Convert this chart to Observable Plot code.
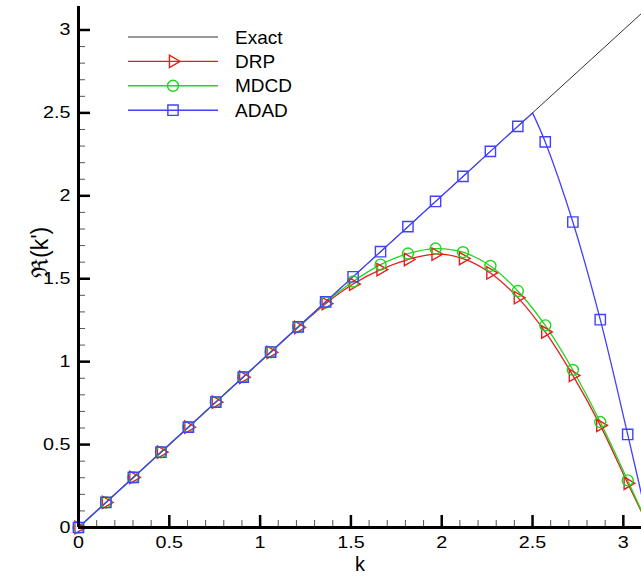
<!DOCTYPE html>
<html><head><meta charset="utf-8">
<script src="https://cdn.jsdelivr.net/npm/d3@7"></script>
<script src="https://cdn.jsdelivr.net/npm/@observablehq/plot@0.6"></script>
<style>
body{margin:0;background:#fff;}
#wrap{position:relative;width:641px;height:577px;font-family:Arial,"Liberation Sans",sans-serif;}
#legend{position:absolute;left:0;top:0;}
</style></head><body><div id="wrap"></div>
<script>
// ---- data ----
const seriesNames = ["Exact", "DRP", "MDCD", "ADAD"];
const seriesColors = ["#333333", "rgb(228,30,30)", "rgb(30,215,30)", "rgb(65,65,255)"];
const markerK  = [0, 0.151, 0.302, 0.454, 0.605, 0.756, 0.907, 1.058, 1.210, 1.361, 1.512, 1.663, 1.814, 1.966, 2.117, 2.268, 2.419, 2.570, 2.722, 2.873, 3.024];
const drpVal   = [0, 0.151, 0.302, 0.454, 0.605, 0.756, 0.906, 1.056, 1.207, 1.350, 1.468, 1.555, 1.616, 1.648, 1.622, 1.535, 1.386, 1.179, 0.917, 0.616, 0.267];
const mdcdVal  = [0, 0.151, 0.302, 0.454, 0.605, 0.756, 0.907, 1.057, 1.209, 1.357, 1.483, 1.585, 1.652, 1.682, 1.660, 1.577, 1.426, 1.219, 0.950, 0.636, 0.284];
const adadVal  = [0, 0.151, 0.302, 0.454, 0.605, 0.756, 0.907, 1.058, 1.210, 1.361, 1.512, 1.663, 1.814, 1.966, 2.117, 2.268, 2.419, 2.325, 1.842, 1.253, 0.561];
const exactK   = [0, 3.1416];
const exactVal = [0, 3.1416];
const endK = 3.1416, endVal = 0;          // all schemes end at (pi, 0)
const adadKinkK = 2.5, adadKinkVal = 2.5; // ADAD leaves the exact line here
const xMajor = [0, 0.5, 1, 1.5, 2, 2.5, 3];
const yMajor = [0, 0.5, 1, 1.5, 2, 2.5, 3];

// ---- layout ----
const W = 641, H = 577, mt = 6, mb = 50, ml = 78, mr = 0;
const xMax = 3.1, yMax = 3.1416;
const pxX = (W - ml - mr) / xMax, pxY = (H - mt - mb) / yMax;
const majorLen = 12, minorLen = 7;

const xMinor = d3.range(1, 31).map(i => i / 10).filter(v => Math.abs(v * 2 - Math.round(v * 2)) > 1e-6);
const yMinor = xMinor;

const pts = (ks, vs) => ks.map((k, i) => ({k, v: vs[i]}));
const drpLine = pts(markerK, drpVal).concat([{k: endK, v: endVal}]);
const mdcdLine = pts(markerK, mdcdVal).concat([{k: endK, v: endVal}]);
const adadPts = pts(markerK, adadVal);
const adadA = adadPts.filter(d => d.k < adadKinkK).concat([{k: adadKinkK, v: adadKinkVal}]);
const adadB = [{k: adadKinkK, v: adadKinkVal}].concat(adadPts.filter(d => d.k > adadKinkK), [{k: endK, v: endVal}]);

const fmt = d => String(d);

const chart = Plot.plot({
  width: W, height: H,
  marginTop: mt, marginBottom: mb, marginLeft: ml, marginRight: mr,
  style: {fontFamily: "Arial, 'Liberation Sans', sans-serif", fontSize: "17px", color: "#000", background: "#fff"},
  x: {domain: [0, xMax]},
  y: {domain: [0, yMax]},
  marks: [
    Plot.axisX(xMajor, {tickSize: 0, tickPadding: 8, tickFormat: fmt, label: null, fontSize: 17}),
    Plot.axisY(yMajor, {tickSize: 0, tickPadding: 8, tickFormat: fmt, label: null, fontSize: 17}),
    Plot.text(["k"], {frameAnchor: "bottom", dy: 37, fontSize: 20, lineAnchor: "middle"}),
    Plot.text(["\u211C(k')"], {frameAnchor: "left", dx: -38, dy: 11, rotate: -90, fontSize: 23, lineAnchor: "middle"}),
    // tick marks (inward)
    Plot.ruleX(xMajor, {y1: 0, y2: majorLen / pxY, stroke: "#000", strokeWidth: 2.5}),
    Plot.ruleX(xMinor, {y1: 0, y2: minorLen / pxY, stroke: "#555", strokeWidth: 1}),
    Plot.ruleY(yMajor, {x1: 0, x2: majorLen / pxX, stroke: "#000", strokeWidth: 2.5}),
    Plot.ruleY(yMinor, {x1: 0, x2: minorLen / pxX, stroke: "#555", strokeWidth: 1}),
    // curves
    Plot.line(pts(exactK, exactVal), {x: "k", y: "v", stroke: seriesColors[0], strokeWidth: 1, clip: true}),
    Plot.line(drpLine, {x: "k", y: "v", stroke: seriesColors[1], strokeWidth: 1.3, curve: "catmull-rom", clip: true}),
    Plot.line(mdcdLine, {x: "k", y: "v", stroke: seriesColors[2], strokeWidth: 1.3, curve: "catmull-rom", clip: true}),
    Plot.line(adadA, {x: "k", y: "v", stroke: seriesColors[3], strokeWidth: 1.3, clip: true}),
    Plot.line(adadB, {x: "k", y: "v", stroke: seriesColors[3], strokeWidth: 1.3, curve: "catmull-rom", clip: true}),
    // markers
    Plot.dot(pts(markerK, drpVal), {x: "k", y: "v", symbol: "triangle", rotate: 90, r: 4.6, stroke: seriesColors[1], fill: "none", strokeWidth: 1.4}),
    Plot.dot(pts(markerK, mdcdVal), {x: "k", y: "v", symbol: "circle", r: 5.5, stroke: seriesColors[2], fill: "none", strokeWidth: 1.4}),
    Plot.dot(adadPts, {x: "k", y: "v", symbol: "square", r: 5.8, stroke: seriesColors[3], fill: "none", strokeWidth: 1.4}),
    // axis lines
    Plot.ruleX([0], {stroke: "#000", strokeWidth: 3}),
    Plot.ruleY([0], {stroke: "#000", strokeWidth: 3})
  ]
});
document.getElementById("wrap").appendChild(chart);

// widen tick labels horizontally (reference uses a wide sans face)
d3.select(chart).selectAll('g[aria-label="x-axis tick label"] text, g[aria-label="y-axis tick label"] text')
  .each(function () {
    const t = this.getAttribute("transform");
    if (t) this.setAttribute("transform", t + " scale(1.16,1)");
    else {
      const x = +this.getAttribute("x") || 0, y = +this.getAttribute("y") || 0;
      this.setAttribute("transform", `translate(${x},${y}) scale(1.16,1) translate(${-x},${-y})`);
    }
  });

// ---- legend overlay ----
const legend = d3.select("#wrap").append("svg").attr("id", "legend")
  .attr("width", 320).attr("height", 130);
const lx1 = 128, lx2 = 218, lm = 173, ltx = 235, ly0 = 37, ldy = 24.4;
const symbols = [null, d3.symbolTriangle, d3.symbolCircle, d3.symbolSquare];
const symSizes = [0, Math.PI * 4.6 * 4.6, Math.PI * 5.5 * 5.5, Math.PI * 5.8 * 5.8];
seriesNames.forEach((name, i) => {
  const y = ly0 + i * ldy;
  const g = legend.append("g");
  g.append("line").attr("x1", lx1).attr("x2", lx2).attr("y1", y).attr("y2", y)
    .attr("stroke", seriesColors[i]).attr("stroke-width", i === 0 ? 1.2 : 1.4);
  if (symbols[i]) {
    g.append("path").attr("d", d3.symbol(symbols[i], symSizes[i])())
      .attr("transform", `translate(${lm},${y})` + (i === 1 ? " rotate(90)" : ""))
      .attr("fill", "none").attr("stroke", seriesColors[i]).attr("stroke-width", 1.4);
  }
  g.append("text").attr("x", ltx).attr("y", y).attr("dy", "0.35em")
    .attr("font-size", 19).attr("font-family", "Arial, 'Liberation Sans', sans-serif")
    .attr("fill", "#000").text(name);
});
</script>
</body></html>
